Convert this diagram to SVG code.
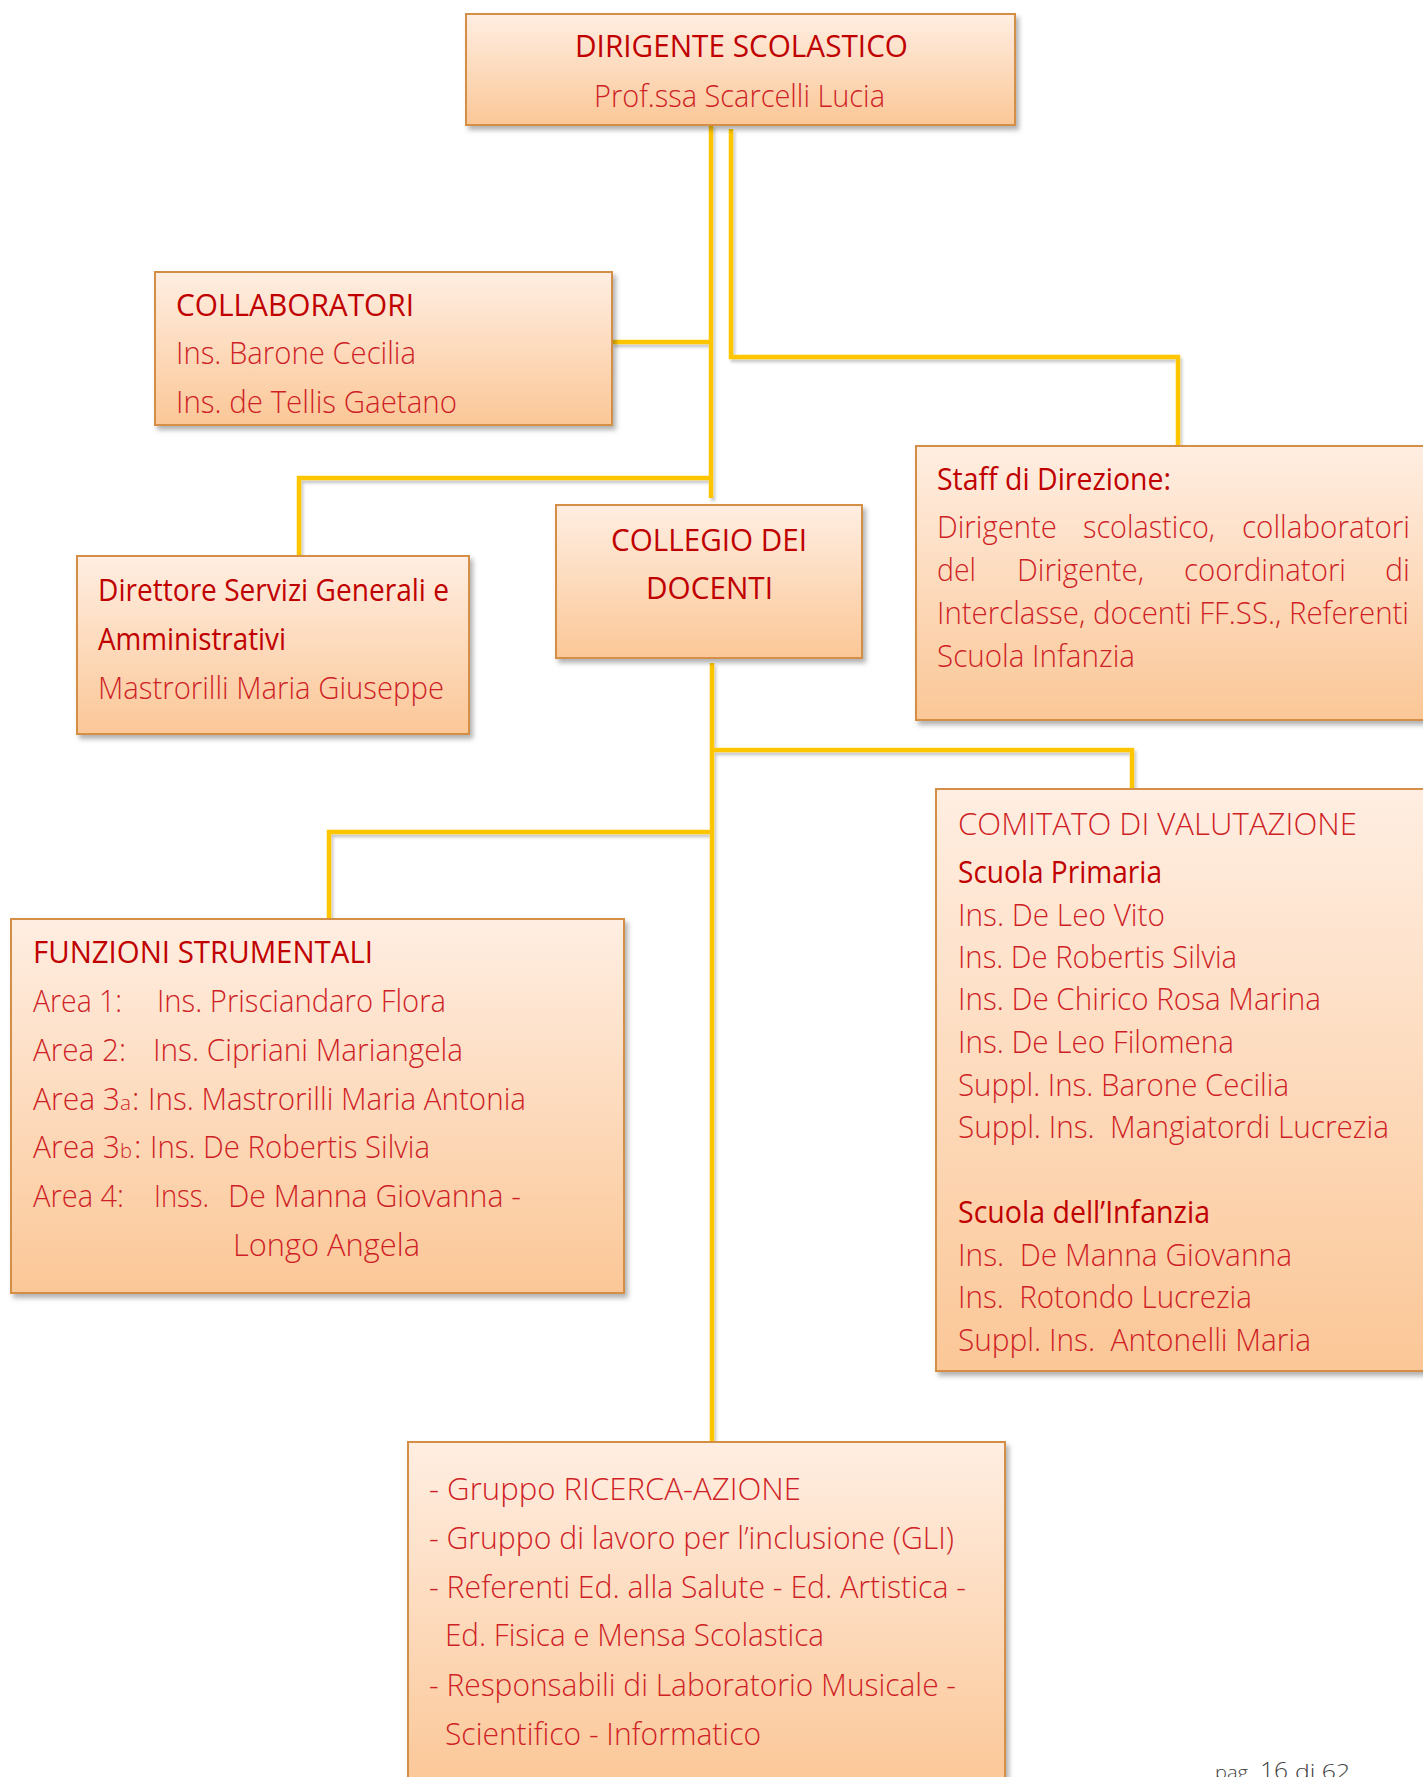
<svg xmlns="http://www.w3.org/2000/svg" width="1423" height="1777" viewBox="0 0 1423 1777">
  <defs>
    <linearGradient id="boxFill" x1="0" y1="0" x2="0" y2="1">
      <stop offset="0" stop-color="#FFEEE2"/>
      <stop offset="1" stop-color="#FBC797"/>
    </linearGradient>
    <filter id="boxShadow" x="-5%" y="-5%" width="115%" height="125%">
      <feDropShadow dx="3" dy="4" stdDeviation="2.5" flood-color="#000" flood-opacity="0.3"/>
    </filter>
    <filter id="lineShadow" filterUnits="userSpaceOnUse" x="0" y="0" width="1423" height="1777">
      <feDropShadow dx="2" dy="3" stdDeviation="1.5" flood-color="#000" flood-opacity="0.22"/>
    </filter>
    <style>
      .box { fill: url(#boxFill); stroke: #D58E45; stroke-width: 2; }
      .t { font-family: "Open Sans", "Liberation Sans", sans-serif; font-size: 31px; white-space: pre; }
      .hd { fill: #C00000; font-weight: 400; }
      .lt { fill: #CF1F26; font-weight: 300; }
      .sub { font-size: 20px; }
      .wire { fill: none; stroke: #FFC600; stroke-width: 4.5; stroke-linejoin: miter; }
      .pg { font-family: "Open Sans", "Liberation Sans", sans-serif; fill: #404040; font-weight: 300; }
    </style>
  </defs>

  <rect width="1423" height="1777" fill="#FFFFFF"/>

  <!-- connectors -->
  <g id="connectors" class="wire" filter="url(#lineShadow)">
    <path d="M711,125 V498"/>
    <path d="M612,342 H711"/>
    <path d="M711,478 H299 V556"/>
    <path d="M731,129 V357 H1178 V446"/>
    <path d="M712,663 V1442"/>
    <path d="M712,750 H1132 V789"/>
    <path d="M712,832 H329 V919"/>
  </g>

  <!-- head of school -->
  <g id="dirigente">
    <rect class="box" filter="url(#boxShadow)" x="466" y="14" width="549" height="111"/>
    <text class="t hd" x="575" y="57" textLength="333" lengthAdjust="spacingAndGlyphs">DIRIGENTE SCOLASTICO</text>
    <text class="t lt" x="594" y="107" textLength="291" lengthAdjust="spacingAndGlyphs">Prof.ssa Scarcelli Lucia</text>
  </g>

  <!-- collaborators -->
  <g id="collaboratori">
    <rect class="box" filter="url(#boxShadow)" x="155" y="272" width="457" height="153"/>
    <text class="t hd" x="176" y="316" textLength="238" lengthAdjust="spacingAndGlyphs">COLLABORATORI</text>
    <text class="t lt" x="176" y="364" textLength="240" lengthAdjust="spacingAndGlyphs">Ins. Barone Cecilia</text>
    <text class="t lt" x="176" y="413" textLength="281" lengthAdjust="spacingAndGlyphs">Ins. de Tellis Gaetano</text>
  </g>

  <!-- DSGA -->
  <g id="direttore">
    <rect class="box" filter="url(#boxShadow)" x="77" y="556" width="392" height="178"/>
    <text class="t hd" x="98" y="601" textLength="351" lengthAdjust="spacingAndGlyphs">Direttore Servizi Generali e</text>
    <text class="t hd" x="98" y="650" textLength="188" lengthAdjust="spacingAndGlyphs">Amministrativi</text>
    <text class="t lt" x="98" y="699" textLength="346" lengthAdjust="spacingAndGlyphs">Mastrorilli Maria Giuseppe</text>
  </g>

  <!-- teachers' board -->
  <g id="collegio">
    <rect class="box" filter="url(#boxShadow)" x="556" y="505" width="306" height="153"/>
    <text class="t hd" x="611" y="551" textLength="196" lengthAdjust="spacingAndGlyphs">COLLEGIO DEI</text>
    <text class="t hd" x="646" y="599" textLength="127" lengthAdjust="spacingAndGlyphs">DOCENTI</text>
  </g>

  <!-- management staff (justified paragraph) -->
  <g id="staff">
    <rect class="box" filter="url(#boxShadow)" x="916" y="446" width="530" height="274"/>
    <text class="t hd" x="937" y="490" textLength="234" lengthAdjust="spacingAndGlyphs">Staff di Direzione:</text>
    <text class="t lt" x="937" y="538" textLength="120" lengthAdjust="spacingAndGlyphs">Dirigente</text>
    <text class="t lt" x="1083" y="538" textLength="132" lengthAdjust="spacingAndGlyphs">scolastico,</text>
    <text class="t lt" x="1242" y="538" textLength="168" lengthAdjust="spacingAndGlyphs">collaboratori</text>
    <text class="t lt" x="937" y="581" textLength="39" lengthAdjust="spacingAndGlyphs">del</text>
    <text class="t lt" x="1017" y="581" textLength="127" lengthAdjust="spacingAndGlyphs">Dirigente,</text>
    <text class="t lt" x="1184" y="581" textLength="162" lengthAdjust="spacingAndGlyphs">coordinatori</text>
    <text class="t lt" x="1385" y="581" textLength="25" lengthAdjust="spacingAndGlyphs">di</text>
    <text class="t lt" x="937" y="624" textLength="472" lengthAdjust="spacingAndGlyphs">Interclasse, docenti FF.SS., Referenti</text>
    <text class="t lt" x="937" y="667" textLength="198" lengthAdjust="spacingAndGlyphs">Scuola Infanzia</text>
  </g>

  <!-- instrumental functions -->
  <g id="funzioni">
    <rect class="box" filter="url(#boxShadow)" x="11" y="919" width="613" height="374"/>
    <text class="t hd" x="33" y="963" textLength="340" lengthAdjust="spacingAndGlyphs">FUNZIONI STRUMENTALI</text>
    <text class="t lt" x="33" y="1012" textLength="89" lengthAdjust="spacingAndGlyphs">Area 1:</text>
    <text class="t lt" x="157" y="1012" textLength="289" lengthAdjust="spacingAndGlyphs">Ins. Prisciandaro Flora</text>
    <text class="t lt" x="33" y="1061" textLength="93" lengthAdjust="spacingAndGlyphs">Area 2:</text>
    <text class="t lt" x="153" y="1061" textLength="310" lengthAdjust="spacingAndGlyphs">Ins. Cipriani Mariangela</text>
    <text class="t lt" x="33" y="1110" textLength="87" lengthAdjust="spacingAndGlyphs">Area 3</text>
    <text class="t lt sub" x="120" y="1110" textLength="11" lengthAdjust="spacingAndGlyphs">a</text>
    <text class="t lt" x="132" y="1110">:</text>
    <text class="t lt" x="148" y="1110" textLength="378" lengthAdjust="spacingAndGlyphs">Ins. Mastrorilli Maria Antonia</text>
    <text class="t lt" x="33" y="1158" textLength="87" lengthAdjust="spacingAndGlyphs">Area 3</text>
    <text class="t lt sub" x="120" y="1158" textLength="12" lengthAdjust="spacingAndGlyphs">b</text>
    <text class="t lt" x="134" y="1158">:</text>
    <text class="t lt" x="150" y="1158" textLength="280" lengthAdjust="spacingAndGlyphs">Ins. De Robertis Silvia</text>
    <text class="t lt" x="33" y="1207" textLength="91" lengthAdjust="spacingAndGlyphs">Area 4:</text>
    <text class="t lt" x="154" y="1207" textLength="55" lengthAdjust="spacingAndGlyphs">Inss.</text>
    <text class="t lt" x="228" y="1207" textLength="293" lengthAdjust="spacingAndGlyphs">De Manna Giovanna -</text>
    <text class="t lt" x="233" y="1256" textLength="187" lengthAdjust="spacingAndGlyphs">Longo Angela</text>
  </g>

  <!-- evaluation committee -->
  <g id="comitato">
    <rect class="box" filter="url(#boxShadow)" x="936" y="789" width="510" height="582"/>
    <text class="t lt" x="958" y="835" textLength="399" lengthAdjust="spacingAndGlyphs">COMITATO DI VALUTAZIONE</text>
    <text class="t hd" x="958" y="883" textLength="204" lengthAdjust="spacingAndGlyphs">Scuola Primaria</text>
    <text class="t lt" x="958" y="926" textLength="207" lengthAdjust="spacingAndGlyphs">Ins. De Leo Vito</text>
    <text class="t lt" x="958" y="968" textLength="279" lengthAdjust="spacingAndGlyphs">Ins. De Robertis Silvia</text>
    <text class="t lt" x="958" y="1010" textLength="363" lengthAdjust="spacingAndGlyphs">Ins. De Chirico Rosa Marina</text>
    <text class="t lt" x="958" y="1053" textLength="276" lengthAdjust="spacingAndGlyphs">Ins. De Leo Filomena</text>
    <text class="t lt" x="958" y="1096" textLength="331" lengthAdjust="spacingAndGlyphs">Suppl. Ins. Barone Cecilia</text>
    <text class="t lt" x="958" y="1138" textLength="431" lengthAdjust="spacingAndGlyphs" xml:space="preserve">Suppl. Ins.  Mangiatordi Lucrezia</text>
    <text class="t hd" x="958" y="1223" textLength="252" lengthAdjust="spacingAndGlyphs">Scuola dell’Infanzia</text>
    <text class="t lt" x="958" y="1266" textLength="334" lengthAdjust="spacingAndGlyphs" xml:space="preserve">Ins.  De Manna Giovanna</text>
    <text class="t lt" x="958" y="1308" textLength="294" lengthAdjust="spacingAndGlyphs" xml:space="preserve">Ins.  Rotondo Lucrezia</text>
    <text class="t lt" x="958" y="1351" textLength="353" lengthAdjust="spacingAndGlyphs" xml:space="preserve">Suppl. Ins.  Antonelli Maria</text>
  </g>

  <!-- working groups and referents -->
  <g id="gruppi">
    <rect class="box" filter="url(#boxShadow)" x="408" y="1442" width="597" height="345"/>
    <text class="t lt" x="429" y="1500" textLength="372" lengthAdjust="spacingAndGlyphs">- Gruppo RICERCA-AZIONE</text>
    <text class="t lt" x="429" y="1549" textLength="525" lengthAdjust="spacingAndGlyphs">- Gruppo di lavoro per l’inclusione (GLI)</text>
    <text class="t lt" x="429" y="1598" textLength="537" lengthAdjust="spacingAndGlyphs">- Referenti Ed. alla Salute - Ed. Artistica -</text>
    <text class="t lt" x="445" y="1646" textLength="379" lengthAdjust="spacingAndGlyphs">Ed. Fisica e Mensa Scolastica</text>
    <text class="t lt" x="429" y="1696" textLength="527" lengthAdjust="spacingAndGlyphs">- Responsabili di Laboratorio Musicale -</text>
    <text class="t lt" x="445" y="1745" textLength="316" lengthAdjust="spacingAndGlyphs">Scientifico - Informatico</text>
  </g>

  <!-- page footer -->
  <g id="footer">
    <text class="pg" x="1215" y="1779" font-size="18" textLength="33" lengthAdjust="spacingAndGlyphs">pag</text>
    <text class="pg" x="1260" y="1779" font-size="24" textLength="28" lengthAdjust="spacingAndGlyphs">16</text>
    <text class="pg" x="1295" y="1779" font-size="20" textLength="55" lengthAdjust="spacingAndGlyphs">di 62</text>
  </g>
</svg>
